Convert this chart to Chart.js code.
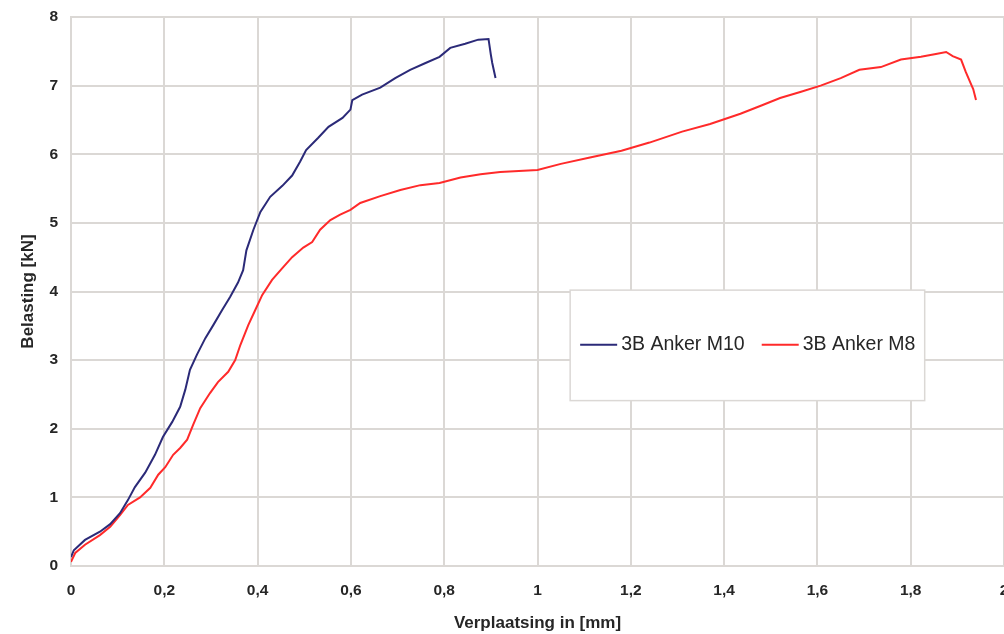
<!DOCTYPE html>
<html>
<head>
<meta charset="utf-8">
<script src="https://cdn.jsdelivr.net/npm/chart.js@4/dist/chart.umd.min.js"></script>
<style>
  html, body { margin: 0; padding: 0; background: #fff; overflow: hidden; }
  #wrap { width: 1040px; height: 634px; }
</style>
</head>
<body>
<div id="wrap"><canvas id="grafiek" width="1040" height="634"></canvas></div>
<script>
// Last-verplaatsing meetdata
const m10X = [0, 0.006, 0.03, 0.062, 0.084, 0.105, 0.122, 0.137, 0.159, 0.18, 0.197, 0.217, 0.234, 0.245, 0.255, 0.27, 0.288, 0.305, 0.324, 0.341, 0.358, 0.369, 0.376, 0.391, 0.406, 0.427, 0.453, 0.474, 0.491, 0.504, 0.53, 0.552, 0.582, 0.599, 0.603, 0.624, 0.663, 0.695, 0.727, 0.76, 0.79, 0.813, 0.845, 0.873, 0.895, 0.9, 0.903, 0.91];
const m10Y = [0.13, 0.23, 0.38, 0.5, 0.61, 0.77, 0.96, 1.15, 1.36, 1.62, 1.88, 2.1, 2.32, 2.57, 2.86, 3.08, 3.32, 3.51, 3.73, 3.92, 4.13, 4.31, 4.6, 4.9, 5.16, 5.38, 5.54, 5.69, 5.89, 6.06, 6.24, 6.4, 6.53, 6.65, 6.79, 6.87, 6.97, 7.11, 7.23, 7.33, 7.42, 7.55, 7.61, 7.67, 7.68, 7.45, 7.33, 7.11];

const m8X = [0, 0.009, 0.03, 0.062, 0.084, 0.105, 0.122, 0.148, 0.17, 0.187, 0.202, 0.219, 0.234, 0.249, 0.262, 0.277, 0.298, 0.315, 0.337, 0.352, 0.363, 0.38, 0.395, 0.41, 0.431, 0.453, 0.474, 0.498, 0.517, 0.534, 0.556, 0.577, 0.599, 0.62, 0.663, 0.706, 0.749, 0.79, 0.835, 0.878, 0.92, 1.0, 1.05, 1.11, 1.18, 1.24, 1.31, 1.37, 1.435, 1.48, 1.52, 1.565, 1.607, 1.65, 1.69, 1.736, 1.779, 1.822, 1.854, 1.876, 1.89, 1.908, 1.918, 1.93, 1.934, 1.94];
const m8Y = [0.06, 0.19, 0.31, 0.45, 0.57, 0.74, 0.89, 1.0, 1.14, 1.33, 1.44, 1.62, 1.72, 1.84, 2.06, 2.3, 2.52, 2.68, 2.83, 3.0, 3.22, 3.51, 3.73, 3.95, 4.17, 4.34, 4.5, 4.64, 4.72, 4.9, 5.04, 5.12, 5.19, 5.29, 5.39, 5.48, 5.55, 5.58, 5.66, 5.71, 5.74, 5.77, 5.86, 5.95, 6.05, 6.17, 6.33, 6.44, 6.59, 6.71, 6.82, 6.91, 7.0, 7.11, 7.23, 7.27, 7.38, 7.42, 7.46, 7.49, 7.43, 7.38, 7.2, 7.01, 6.95, 6.79];

const reeksNamen = ['3B Anker M10', '3B Anker M8'];
const reeksKleuren = ['#2b2a78', '#ff2a2a'];

const maakPunten = (xs, ys) => xs.map((x, i) => ({ x: x, y: ys[i] }));

const rasterKleur = '#dbd8d5';
const tekstKleur = '#262626';
const letter = '"Liberation Sans", Arial, sans-serif';

// legenda-kader binnen het plotvlak
const legendaPlugin = {
  id: 'legendaKader',
  afterDatasetsDraw(chart) {
    const ctx = chart.ctx;
    const xs = chart.scales.x, ys = chart.scales.y;
    const l = xs.getPixelForValue(1.07), r = xs.getPixelForValue(1.83);
    const t = ys.getPixelForValue(4.02), b = ys.getPixelForValue(2.41);
    ctx.save();
    ctx.fillStyle = '#fff';
    ctx.fillRect(l, t, r - l, b - t);
    ctx.strokeStyle = rasterKleur;
    ctx.lineWidth = 1.5;
    ctx.strokeRect(l, t, r - l, b - t);
    ctx.font = '19.5px ' + letter;
    ctx.textBaseline = 'middle';
    const midY = (t + b) / 2 - 0.5;
    let x = l + 10;
    chart.data.datasets.forEach((ds) => {
      ctx.strokeStyle = ds.borderColor;
      ctx.lineWidth = 2;
      ctx.beginPath();
      ctx.moveTo(x, midY);
      ctx.lineTo(x + 37, midY);
      ctx.stroke();
      ctx.fillStyle = tekstKleur;
      ctx.fillText(ds.label, x + 41, midY);
      x += 41 + ctx.measureText(ds.label).width + 17;
    });
    ctx.restore();
  }
};

new Chart(document.getElementById('grafiek'), {
  type: 'line',
  data: {
    datasets: [{
      label: reeksNamen[0],
      data: maakPunten(m10X, m10Y),
      borderColor: reeksKleuren[0],
      borderWidth: 2,
      pointRadius: 0,
      tension: 0,
      fill: false
    }, {
      label: reeksNamen[1],
      data: maakPunten(m8X, m8Y),
      borderColor: reeksKleuren[1],
      borderWidth: 2,
      pointRadius: 0,
      tension: 0,
      fill: false
    }]
  },
  options: {
    responsive: false,
    animation: false,
    layout: { padding: { top: 17, right: 36, left: 0, bottom: 0 } },
    plugins: { legend: { display: false }, tooltip: { enabled: false } },
    scales: {
      x: {
        type: 'linear',
        min: 0, max: 2,
        afterFit: (s) => { s.height = 68; },
        ticks: {
          stepSize: 0.2,
          padding: 15,
          color: tekstKleur,
          font: { family: letter, size: 15.5, weight: 'bold' },
          callback: (v) => String(Math.round(v * 10) / 10).replace('.', ',')
        },
        grid: { color: rasterKleur, lineWidth: 2, drawTicks: false },
        border: { color: rasterKleur, width: 2 },
        title: {
          display: true,
          text: 'Verplaatsing in [mm]',
          color: tekstKleur,
          font: { family: letter, size: 17, weight: 'bold' },
          padding: { top: 3, bottom: 0 }
        }
      },
      y: {
        min: 0, max: 8,
        afterFit: (s) => { s.width = 71; s.paddingTop = 0; s.paddingBottom = 0; },
        ticks: {
          stepSize: 1,
          padding: 13,
          color: tekstKleur,
          font: { family: letter, size: 15.5, weight: 'bold' }
        },
        grid: { color: rasterKleur, lineWidth: 2, drawTicks: false },
        border: { color: rasterKleur, width: 2 },
        title: {
          display: true,
          text: 'Belasting [kN]',
          color: tekstKleur,
          font: { family: letter, size: 17, weight: 'bold' },
          padding: { top: 18, bottom: 0 }
        }
      }
    }
  },
  plugins: [legendaPlugin]
});
</script>
</body>
</html>
